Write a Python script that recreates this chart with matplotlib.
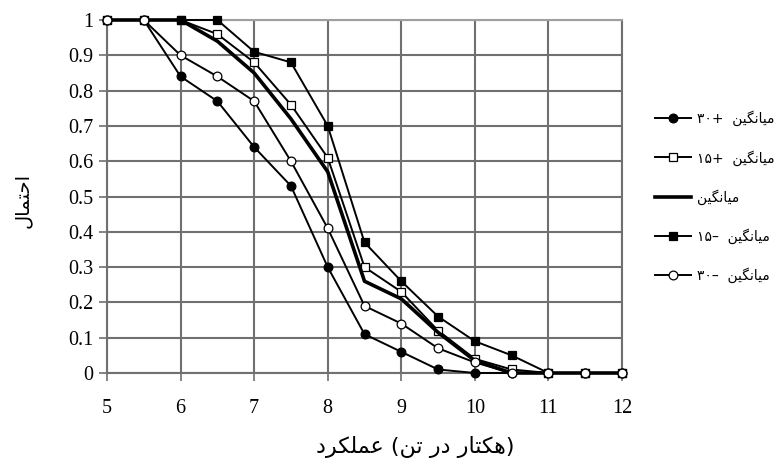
import matplotlib
matplotlib.use('Agg')
import matplotlib.pyplot as plt

# --- data ---
yield_t = [5, 5.5, 6, 6.5, 7, 7.5, 8, 8.5, 9, 9.5, 10, 10.5, 11, 11.5, 12]
p_plus30 = [1, 1, 0.84, 0.77, 0.64, 0.53, 0.30, 0.11, 0.06, 0.01, 0, 0, 0, 0, 0]
p_plus15 = [1, 1, 1, 0.96, 0.88, 0.76, 0.61, 0.30, 0.23, 0.12, 0.04, 0.01, 0, 0, 0]
p_mean = [1, 1, 1, 0.94, 0.85, 0.72, 0.57, 0.26, 0.21, 0.115, 0.035, 0, 0, 0, 0]
p_minus15 = [1, 1, 1, 1, 0.91, 0.88, 0.70, 0.37, 0.26, 0.16, 0.09, 0.05, 0, 0, 0]
p_minus30 = [1, 1, 0.90, 0.84, 0.77, 0.60, 0.41, 0.19, 0.14, 0.07, 0.03, 0, 0, 0, 0]

# شکل‌های نمایشی حروف: (جدا، پایانی، آغازی، میانی)
FORMS = {
    '\u0627': ('\uFE8D', '\uFE8E', None, None),
    '\u062D': ('\uFEA1', '\uFEA2', '\uFEA3', '\uFEA4'),
    '\u062A': ('\uFE95', '\uFE96', '\uFE97', '\uFE98'),
    '\u0645': ('\uFEE1', '\uFEE2', '\uFEE3', '\uFEE4'),
    '\u0644': ('\uFEDD', '\uFEDE', '\uFEDF', '\uFEE0'),
    '\u06CC': ('\uFBFC', '\uFBFD', '\uFBFE', '\uFBFF'),
    '\u0646': ('\uFEE5', '\uFEE6', '\uFEE7', '\uFEE8'),
    '\u06AF': ('\uFB92', '\uFB93', '\uFB94', '\uFB95'),
    '\u0639': ('\uFEC9', '\uFECA', '\uFECB', '\uFECC'),
    '\u06A9': ('\uFB8E', '\uFB8F', '\uFB90', '\uFB91'),
    '\u0631': ('\uFEAD', '\uFEAE', None, None),
    '\u062F': ('\uFEA9', '\uFEAA', None, None),
    '\u0647': ('\uFEE9', '\uFEEA', '\uFEEB', '\uFEEC'),
}


def shape(word):
    """حروف را به هم می‌چسباند و برای نمایش چپ‌به‌راست برعکس می‌کند."""
    out = []
    n = len(word)
    for i, c in enumerate(word):
        f = FORMS.get(c)
        if f is None:
            out.append(c)
            continue
        prev = word[i - 1] if i > 0 else None
        nxt = word[i + 1] if i < n - 1 else None
        join_prev = prev in FORMS and FORMS[prev][2] is not None
        join_next = f[2] is not None and nxt in FORMS
        if join_prev and join_next:
            out.append(f[3])
        elif join_prev:
            out.append(f[1])
        elif join_next:
            out.append(f[2])
        else:
            out.append(f[0])
    return ''.join(reversed(out))


MEAN = shape('میانگین')
legend_labels = [
    '۳۰+  ' + MEAN,
    '۱۵+  ' + MEAN,
    MEAN,
    '۱۵–  ' + MEAN,
    '۳۰–  ' + MEAN,
]
xlabel = (shape('عملکرد') + ' (' + shape('تن') + ' ' + shape('در') + ' '
          + shape('هکتار') + ')')
ylabel = shape('احتمال')

fig = plt.figure(figsize=(7.81, 4.65), dpi=100)
ax = fig.add_axes([107 / 781, 1 - 373 / 465, 515 / 781, 353 / 465])

kw = dict(color='black', linewidth=1.4, markersize=6.3, markeredgecolor='black',
          markeredgewidth=0.9, clip_on=False)
ax.plot(yield_t, p_plus30, marker='o', markerfacecolor='black', label=legend_labels[0], zorder=3, **kw)
ax.plot(yield_t, p_plus15, marker='s', markerfacecolor='white', label=legend_labels[1], zorder=3, **kw)
ax.plot(yield_t, p_mean, color='black', linewidth=2.6, label=legend_labels[2], zorder=3, clip_on=False)
ax.plot(yield_t, p_minus15, marker='s', markerfacecolor='black', label=legend_labels[3], zorder=3, **kw)
ax.plot(yield_t, p_minus30, marker='o', markerfacecolor='white', label=legend_labels[4], zorder=3, **kw)

ax.set_xlim(5, 12)
ax.set_ylim(0, 1)
ax.set_xticks(range(5, 13))
yt = [i / 10 for i in range(11)]
ax.set_yticks(yt)
ax.set_yticklabels(['0'] + [f'{v:.1f}' for v in yt[1:-1]] + ['1'])
for lab in ax.get_xticklabels() + ax.get_yticklabels():
    lab.set_family('Liberation Serif')
    lab.set_fontsize(14.5)
ax.tick_params(direction='out', length=6, width=1.2, color='#707070')
ax.tick_params(axis='x', pad=13)
ax.tick_params(axis='y', pad=4)
ax.grid(True, color='#707070', linewidth=1.5)
ax.set_axisbelow(True)
for s in ax.spines.values():
    s.set_color('#707070')
    s.set_linewidth(1.5)
ax.spines['top'].set_color('#a0a0a0')

fig.text(415 / 781, 1 - 447 / 465, xlabel, family='DejaVu Sans', fontsize=16,
         ha='center', va='center')
fig.text(22 / 781, 1 - 200 / 465, ylabel, family='DejaVu Sans', fontsize=14,
         rotation=90, ha='center', va='center')

ax.legend(loc='center left', bbox_to_anchor=(1.064, 0.4986), frameon=False,
          borderaxespad=0, borderpad=0,
          prop={'family': 'DejaVu Sans', 'size': 10}, handlelength=2.6,
          handletextpad=0.45, labelspacing=1.7)

fig.savefig('out.png', dpi=100)
